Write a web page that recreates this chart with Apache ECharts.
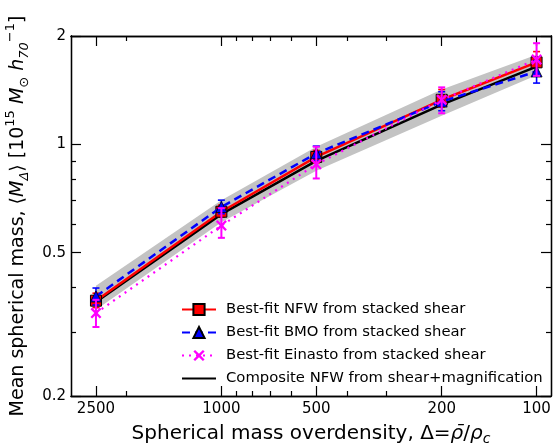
<!DOCTYPE html>
<html>
<head>
  <meta charset="utf-8">
  <style>
    html, body { margin: 0; padding: 0; width: 100%; height: 100%; overflow: hidden; background: #fff; }
  </style>
</head>
<body>
  <div id="container" style="width: 556px; height: 445px;"></div>
  <script src="https://cdn.jsdelivr.net/npm/echarts@6/dist/echarts.min.js"></script>
  <script>
    // overdensity values (x)
    const deltas = [2500, 1000, 500, 200, 100];

    // best-fit NFW, stacked shear
    const nfw = [0.368, 0.650, 0.923, 1.33, 1.69];
    const nfwLo = [0.352, 0.628, 0.888, 1.27, 1.56];
    const nfwHi = [0.386, 0.678, 0.962, 1.42, 1.81];

    // best-fit BMO
    const bmo = [0.378, 0.670, 0.944, 1.315, 1.594];
    const bmoLo = [0.358, 0.642, 0.902, 1.24, 1.48];
    const bmoHi = [0.399, 0.700, 0.989, 1.40, 1.71];

    // best-fit Einasto
    const einasto = [0.340, 0.595, 0.880, 1.33, 1.72];
    const einastoLo = [0.311, 0.550, 0.804, 1.22, 1.55];
    const einastoHi = [0.370, 0.665, 0.985, 1.44, 1.91];

    // composite NFW (shear+magnification) and its band
    const composite = [0.365, 0.640, 0.900, 1.29, 1.645];
    const bandLo = [0.347, 0.608, 0.845, 1.20, 1.555];
    const bandHi = [0.405, 0.700, 0.985, 1.42, 1.775];

    // ticks
    const xTicks = [2500, 1000, 500, 200, 100];
    const xMinor = [2000, 900, 800, 700, 600, 400, 300];
    const yTicks = [0.2, 0.5, 1, 2];
    const yMinor = [0.3, 0.4, 0.6, 0.7, 0.8, 0.9];
    const xRange = [90, 3000];
    const yRange = [0.2, 2];

    const lg = Math.log10;
    const FONT = 'DejaVu Sans';

    const names = [
      'Best-fit NFW from stacked shear',
      'Best-fit BMO from stacked shear',
      'Best-fit Einasto from stacked shear',
      'Composite NFW from shear+magnification'
    ];

    function pts(ys) {
      return deltas.map((d, i) => [lg(d), lg(ys[i])]);
    }
    function errs(ys, lo, hi) {
      return deltas.map((d, i) => [lg(d), lg(lo[i]), lg(hi[i])]);
    }

    function errRender(color, width) {
      return function (params, api) {
        const x = api.value(0);
        const p1 = api.coord([x, api.value(1)]);
        const p2 = api.coord([x, api.value(2)]);
        const w = 3.5;
        const st = { stroke: color, lineWidth: width };
        return {
          type: 'group',
          children: [
            { type: 'line', shape: { x1: p1[0], y1: p1[1], x2: p2[0], y2: p2[1] }, style: st },
            { type: 'line', shape: { x1: p1[0] - w, y1: p1[1], x2: p1[0] + w, y2: p1[1] }, style: st },
            { type: 'line', shape: { x1: p2[0] - w, y1: p2[1], x2: p2[0] + w, y2: p2[1] }, style: st }
          ]
        };
      };
    }

    const xSpan = { type: 'value', inverse: true, min: lg(xRange[0]), max: lg(xRange[1]), splitLine: { show: false } };
    const ySpan = { type: 'value', min: lg(yRange[0]), max: lg(yRange[1]), splitLine: { show: false } };
    const frame = { show: true, onZero: false, lineStyle: { color: '#000', width: 1.3 } };

    function xAxisOf(pos, ticks, len, withLabels) {
      return Object.assign({}, xSpan, {
        position: pos,
        axisLine: frame,
        axisTick: { show: true, inside: true, length: len, customValues: ticks.map(lg), lineStyle: { color: '#000', width: 1.2 } },
        axisLabel: withLabels ? {
          show: true, customValues: ticks.map(lg), margin: 6,
          fontFamily: FONT, fontSize: 15, color: '#000',
          formatter: v => String(Math.round(Math.pow(10, v)))
        } : { show: false }
      });
    }
    function yAxisOf(pos, ticks, len, withLabels) {
      return Object.assign({}, ySpan, {
        position: pos,
        axisLine: frame,
        axisTick: { show: true, inside: true, length: len, customValues: ticks.map(lg), lineStyle: { color: '#000', width: 1.2 } },
        axisLabel: withLabels ? {
          show: true, customValues: ticks.map(lg), margin: 5,
          fontFamily: FONT, fontSize: 15, color: '#000',
          formatter: v => String(Math.round(Math.pow(10, v) * 10) / 10)
        } : { show: false }
      });
    }

    const xMain = xAxisOf('bottom', xTicks, 10, true);
    xMain.name = 'Spherical mass overdensity, Δ={it|ρ̄}/{it|ρ}{sub|c}';
    xMain.nameLocation = 'middle';
    xMain.nameGap = 25;
    xMain.nameTextStyle = {
      fontFamily: FONT, fontSize: 20, color: '#000', lineHeight: 24,
      rich: {
        it: { fontFamily: FONT, fontStyle: 'italic', fontSize: 20, color: '#000' },
        sub: { fontFamily: FONT, fontStyle: 'italic', fontSize: 14, color: '#000', verticalAlign: 'bottom', lineHeight: 24 }
      }
    };

    const yMain = yAxisOf('left', yTicks, 10, true);
    yMain.name = 'Mean spherical mass, ⟨{it|M}{sub|Δ}⟩ [10{sup|15} {it|M}{sub|⊙} {it|h}{sub|70}{sup|−1}]';
    yMain.nameLocation = 'middle';
    yMain.nameGap = 36;
    yMain.nameTextStyle = {
      fontFamily: FONT, fontSize: 19, color: '#000', lineHeight: 27,
      rich: {
        it: { fontFamily: FONT, fontStyle: 'italic', fontSize: 19, color: '#000' },
        sub: { fontFamily: FONT, fontStyle: 'italic', fontSize: 13, color: '#000', verticalAlign: 'bottom', lineHeight: 27 },
        sup: { fontFamily: FONT, fontSize: 13, color: '#000', verticalAlign: 'top', lineHeight: 27 }
      }
    };

    const xMark = 'path://M1.5,0 L5,3.5 L8.5,0 L10,1.5 L6.5,5 L10,8.5 L8.5,10 L5,6.5 L1.5,10 L0,8.5 L3.5,5 L0,1.5 Z';

    const option = {
      animation: false,
      backgroundColor: '#fff',
      grid: { left: 71, right: 5, top: 36, bottom: 49, outerBoundsMode: 'none', containLabel: false },
      xAxis: [
        xMain,
        xAxisOf('bottom', xMinor, 5, false),
        xAxisOf('top', xTicks, 10, false),
        xAxisOf('top', xMinor, 5, false)
      ],
      yAxis: [
        yMain,
        yAxisOf('left', yMinor, 5, false),
        yAxisOf('right', yTicks, 10, false),
        yAxisOf('right', yMinor, 5, false)
      ],
      legend: {
        data: [
          names[0], names[1], names[2],
          { name: names[3], itemStyle: { color: 'rgba(0,0,0,0)', borderColor: 'rgba(0,0,0,0)', borderWidth: 0 } }
        ],
        orient: 'vertical',
        left: 176,
        top: 297,
        itemWidth: 34,
        itemHeight: 14,
        itemGap: 8,
        textStyle: { fontFamily: FONT, fontSize: 14.8, color: '#000', padding: [0, 0, 0, 5] }
      },
      series: [
        {
          name: 'band',
          type: 'custom',
          z: 1,
          silent: true,
          data: errs(composite, bandLo, bandHi),
          renderItem: function (params, api) {
            if (params.dataIndex !== 0) return null;
            const up = deltas.map((d, i) => api.coord([lg(d), lg(bandHi[i])]));
            const dn = deltas.map((d, i) => api.coord([lg(d), lg(bandLo[i])])).reverse();
            return { type: 'polygon', shape: { points: up.concat(dn) }, style: { fill: '#c3c3c3' } };
          }
        },
        {
          name: names[3],
          type: 'line',
          z: 2,
          data: pts(composite),
          symbol: 'none',
          itemStyle: { color: '#000' },
          lineStyle: { color: '#000', width: 2.5 }
        },
        {
          name: 'nfwErr', type: 'custom', z: 3,
          data: errs(nfw, nfwLo, nfwHi), renderItem: errRender('#ff0000', 1.6)
        },
        {
          name: names[0],
          type: 'line',
          z: 4,
          data: pts(nfw),
          symbol: 'rect',
          symbolSize: 11,
          itemStyle: { color: '#ff0000', borderColor: '#000', borderWidth: 1 },
          lineStyle: { color: '#ff0000', width: 2.5 }
        },
        {
          name: 'bmoErr', type: 'custom', z: 5,
          data: errs(bmo, bmoLo, bmoHi), renderItem: errRender('#0000ff', 1.6)
        },
        {
          name: names[1],
          type: 'line',
          z: 6,
          data: pts(bmo),
          symbol: 'triangle',
          symbolSize: 11,
          itemStyle: { color: '#0000ff', borderColor: '#000', borderWidth: 0.8 },
          lineStyle: { color: '#0000ff', width: 2.5, type: [8, 5] }
        },
        {
          name: 'einErr', type: 'custom', z: 7,
          data: errs(einasto, einastoLo, einastoHi), renderItem: errRender('#ff00ff', 2)
        },
        {
          name: names[2],
          type: 'line',
          z: 8,
          data: pts(einasto),
          symbol: xMark,
          symbolSize: 11,
          itemStyle: { color: '#ff00ff' },
          lineStyle: { color: '#ff00ff', width: 2.2, type: [2, 5] }
        }
      ]
    };

    const myChart = echarts.init(document.getElementById('container'), null, { renderer: 'canvas' });
    myChart.setOption(option);
  </script>
</body>
</html>
